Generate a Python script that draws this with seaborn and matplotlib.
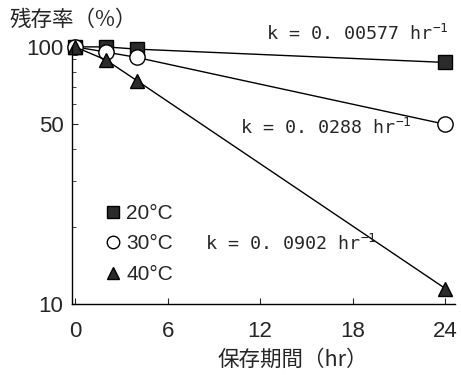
import pandas as pd
import seaborn as sns
import matplotlib.pyplot as plt
from matplotlib import font_manager
from matplotlib.ticker import FixedLocator, NullFormatter

# --- data ---
hours = [0, 2, 4, 24]
temps = ['20°C', '30°C', '40°C']
remain_20 = [100, 100, 98, 87]
remain_30 = [100, 95.5, 91, 50]
remain_40 = [100, 89, 74, 11.5]
k_labels = ['k = 0. 00577 hr$^{-1}$', 'k = 0. 0288 hr$^{-1}$', 'k = 0. 0902 hr$^{-1}$']
x_ticks = [0, 6, 12, 18, 24]
y_ticks = [10, 50, 100]

sns.set_style('white')
names = {f.name for f in font_manager.fontManager.ttflist}
narrow = 'Liberation Sans Narrow' if 'Liberation Sans Narrow' in names else 'Liberation Sans'
plt.rcParams['font.family'] = [narrow, 'Noto Sans CJK JP', 'DejaVu Sans']
plt.rcParams['mathtext.fontset'] = 'custom'
plt.rcParams['mathtext.rm'] = 'DejaVu Sans Mono'
plt.rcParams['mathtext.it'] = 'DejaVu Sans Mono'
plt.rcParams['mathtext.default'] = 'rm'
jp = ['Noto Sans CJK JP', 'DejaVu Sans']
mono = ['DejaVu Sans Mono', 'DejaVu Sans']

df = pd.DataFrame({
    'hours': hours * 3,
    'remain': remain_20 + remain_30 + remain_40,
    'temp': [t for t in temps for _ in hours],
})

fig = plt.figure(figsize=(4.61, 3.75), dpi=100)
ax = fig.add_axes([0.156, 0.189, 0.83, 0.686])

styles = {
    '20°C': dict(marker='s', markersize=10, markerfacecolor='#2b2b2b'),
    '30°C': dict(marker='o', markersize=11, markerfacecolor='white'),
    '40°C': dict(marker='^', markersize=10, markerfacecolor='#2b2b2b'),
}
for t in temps:
    sub = df[df['temp'] == t]
    sns.lineplot(data=sub, x='hours', y='remain', ax=ax, color='black',
                 linewidth=1, markeredgecolor='black', markeredgewidth=1,
                 label=t, clip_on=False, **styles[t])

ax.set_yscale('log')
ax.set_ylim(10, 100)
ax.set_xlim(-0.2, 24.6)
ax.yaxis.set_major_locator(FixedLocator(y_ticks))
ax.yaxis.set_minor_locator(FixedLocator([20, 30, 40, 60, 70, 80, 90]))
ax.yaxis.set_minor_formatter(NullFormatter())
ax.set_yticklabels([str(v) for v in y_ticks])
ax.set_xticks(x_ticks)
ax.tick_params(axis='both', which='major', direction='in', length=4,
               labelsize=16, left=True, bottom=True)
ax.tick_params(axis='y', which='major', pad=6)
ax.tick_params(axis='x', which='major', pad=12)
ax.tick_params(axis='y', which='minor', direction='in', length=3, left=True)
sns.despine(ax=ax)
for s in ['left', 'bottom']:
    ax.spines[s].set_color('black')
    ax.spines[s].set_linewidth(1)

ax.set_xlabel('')
ax.set_ylabel('')
fig.text(0.02, 0.975, '残存率（%）', fontsize=15.5, family=jp, va='top', ha='left')
fig.text(0.635, 0.012, '保存期間（hr）', fontsize=15.5, family=jp, va='bottom', ha='center')

# rate constants next to each line
for txt, (fx, fy) in zip(k_labels, [(0.578, 0.91), (0.52, 0.66), (0.445, 0.35)]):
    fig.text(fx, fy, txt, fontsize=13.2, family=mono, va='center', ha='left')

leg = ax.legend(loc='upper left', bbox_to_anchor=(0.06, 0.43), frameon=False,
                fontsize=15, handlelength=0.7, handletextpad=0.3,
                labelspacing=0.55, borderpad=0)
for line in leg.get_lines():
    line.set_linestyle('none')
    line.set_markersize(9)

fig.savefig('out.png', dpi=100)
